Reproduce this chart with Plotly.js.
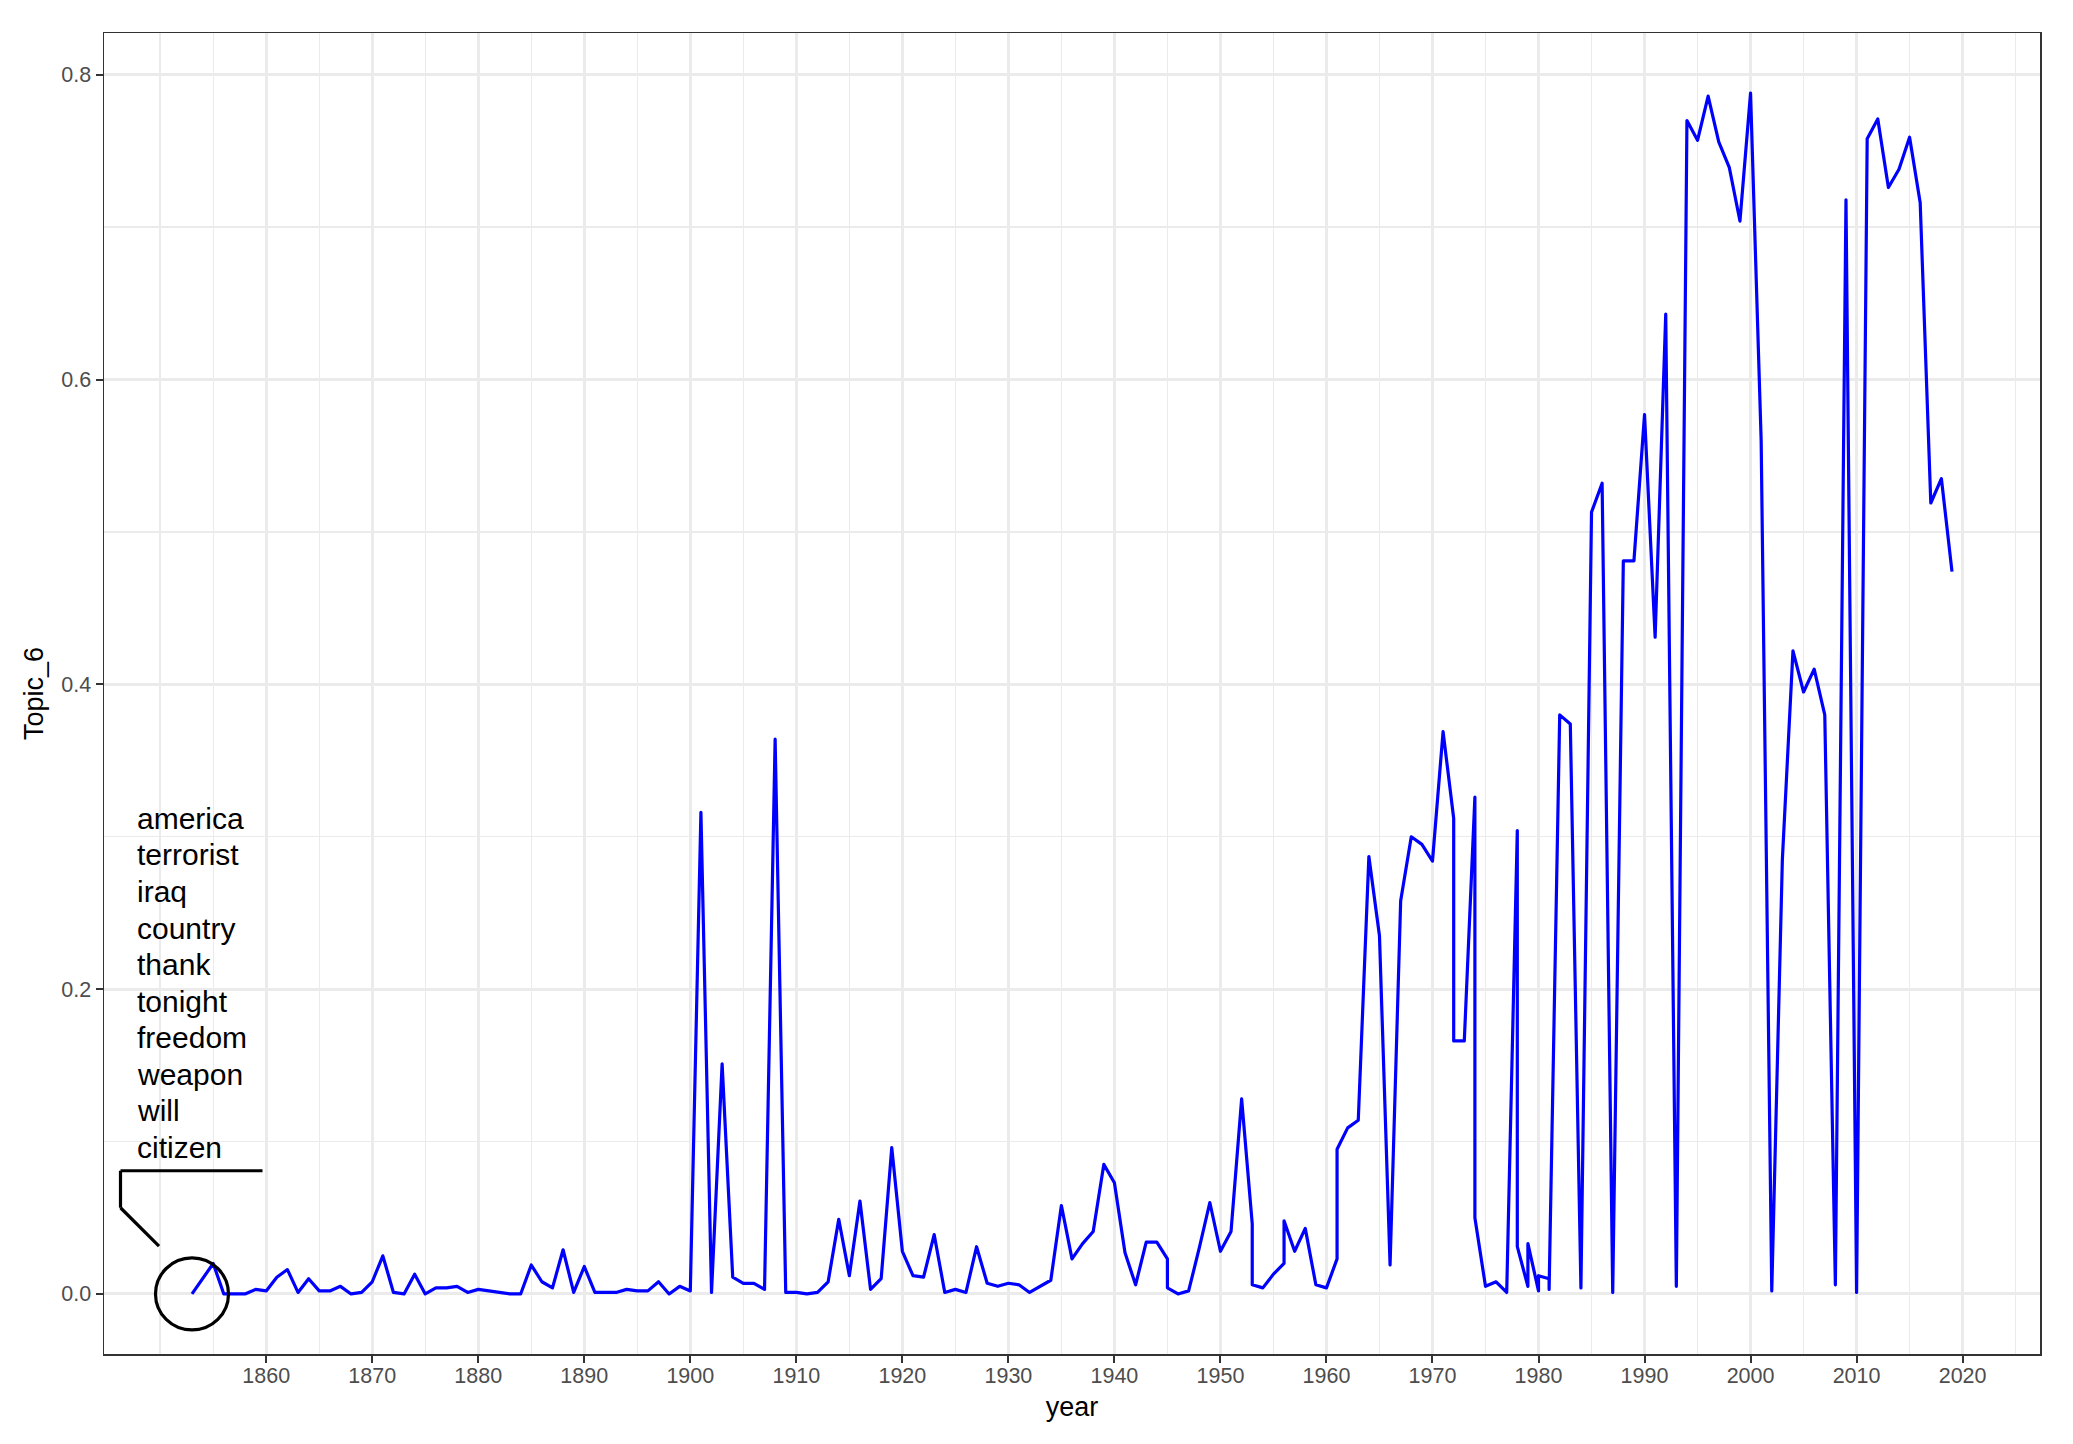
<!DOCTYPE html>
<html>
<head>
<meta charset="utf-8">
<script src="https://cdn.plot.ly/plotly-3.0.1.min.js"></script>
<style>
  html, body { margin: 0; padding: 0; background: #ffffff; overflow: hidden; }
  #chart { width: 2073px; height: 1444px; }
  .js-line { stroke-linejoin: round; }
</style>
</head>
<body>
<div id="chart"></div>
<script>
// ---- data ----
var years = [
  1853,1854,1855,1856,1857,1858,1859,1860,1861,1862,1863,1864,1865,1866,1867,1868,1869,
  1870,1871,1872,1873,1874,1875,1876,1877,1878,1879,1880,1881,1882,1883,1884,1885,1886,
  1887,1888,1889,1890,1891,1892,1893,1894,1895,1896,1897,1898,1899,1900,1901,1902,1903,
  1904,1905,1906,1907,1908,1909,1910,1911,1912,1913,1914,1915,1916,1917,1918,1919,1920,
  1921,1922,1923,1924,1925,1926,1927,1928,1929,1930,1931,1932,1933,1934,1935,1936,1937,
  1938,1939,1940,1941,1942,1943,1944,1945,1945,1946,1947,1948,1949,1950,1951,1952,1953,
  1953,1954,1955,1956,1956,1957,1958,1959,1960,1961,1961,1962,1963,1964,1965,1966,1967,
  1968,1969,1970,1971,1972,1972,1973,1974,1974,1975,1976,1977,1978,1978,1979,1979,1980,
  1980,1981,1981,1982,1983,1984,1985,1986,1987,1988,1989,1990,1991,1992,1993,1994,1995,
  1996,1997,1998,1999,2000,2001,2002,2003,2004,2005,2006,2007,2008,2009,2010,2011,2012,
  2013,2014,2015,2016,2017,2018,2019
];
var topic6 = [
  0.000,0.010,0.020,0.000,0.000,0.000,0.003,0.002,0.011,0.016,0.001,0.010,0.002,0.002,0.005,0.000,0.001,
  0.008,0.025,0.001,0.000,0.013,0.000,0.004,0.004,0.005,0.001,0.003,0.002,0.001,0.000,0.000,0.019,0.008,
  0.004,0.029,0.001,0.018,0.001,0.001,0.001,0.003,0.002,0.002,0.008,0.000,0.005,0.002,0.316,0.001,0.151,
  0.011,0.007,0.007,0.003,0.364,0.001,0.001,0.000,0.001,0.008,0.049,0.012,0.061,0.003,0.010,0.096,0.028,
  0.012,0.011,0.039,0.001,0.003,0.001,0.031,0.007,0.005,0.007,0.006,0.001,0.005,0.009,0.058,0.023,0.033,
  0.041,0.085,0.073,0.027,0.006,0.034,0.034,0.023,0.004,0.000,0.002,0.030,0.060,0.028,0.041,0.128,0.046,
  0.006,0.004,0.013,0.020,0.048,0.028,0.043,0.006,0.004,0.023,0.095,0.109,0.114,0.287,0.235,0.019,0.258,
  0.300,0.295,0.284,0.369,0.312,0.166,0.166,0.326,0.050,0.005,0.008,0.001,0.304,0.031,0.005,0.033,0.002,
  0.012,0.010,0.003,0.380,0.374,0.004,0.513,0.532,0.001,0.481,0.481,0.577,0.431,0.643,0.005,0.770,0.757,
  0.786,0.756,0.739,0.704,0.788,0.560,0.002,0.285,0.422,0.395,0.410,0.380,0.006,0.718,0.001,0.758,0.771,
  0.726,0.738,0.759,0.716,0.519,0.535,0.474
];
var topWords = ["america","terrorist","iraq","country","thank","tonight","freedom","weapon","will","citizen"];
var xTicks = [1860,1870,1880,1890,1900,1910,1920,1930,1940,1950,1960,1970,1980,1990,2000,2010,2020];
var xMinor = [1850,1855,1865,1875,1885,1895,1905,1915,1925,1935,1945,1955,1965,1975,1985,1995,2005,2015,2025];
var yTicks = [0, 0.2, 0.4, 0.6, 0.8];
var yTickText = ["0.0","0.2","0.4","0.6","0.8"];
var yMinor = [0.1, 0.3, 0.5, 0.7];

// ---- drawing ----
var FONT = "Liberation Sans, Arial, Helvetica, sans-serif";
var x0 = years[0], y0 = topic6[0];

var trace = {
  x: years, y: topic6, type: "scatter", mode: "lines",
  line: {color: "#0000FF", width: 3.2},
  hoverinfo: "skip", showlegend: false
};

function pxLine(ax0, ay0, ax1, ay1) {
  return {
    type: "line", xref: "x", yref: "y",
    xsizemode: "pixel", ysizemode: "pixel",
    xanchor: x0, yanchor: y0,
    x0: ax0, y0: ay0, x1: ax1, y1: ay1,
    line: {color: "#000000", width: 3.2}
  };
}

var shapes = [
  {
    type: "circle", xref: "x", yref: "y",
    xsizemode: "pixel", ysizemode: "pixel",
    xanchor: x0, yanchor: y0,
    x0: -36.5, x1: 36.5, y0: -36, y1: 36,
    line: {color: "#000000", width: 3.2}
  },
  pxLine(-71.5, 123.2, 70.5, 123.2),
  pxLine(-71.5, 123.2, -71.5, 86.2),
  pxLine(-71.5, 86.2, -33, 47.8)
];

var annotations = topWords.map(function (w, i) {
  return {
    x: x0, y: y0, xref: "x", yref: "y",
    text: w, showarrow: false,
    xanchor: "left", yanchor: "middle",
    xshift: -56.7, yshift: 475.6 - 36.56 * i,
    font: {family: FONT, size: 30, color: "#000000"}
  };
});

var axisCommon = {
  showline: true, mirror: true, linecolor: "#333333", linewidth: 1.5,
  ticks: "outside", ticklen: 7, tickwidth: 2, tickcolor: "#333333",
  showgrid: true, gridcolor: "#EBEBEB", gridwidth: 3,
  zeroline: false,
  tickfont: {family: FONT, size: 21.5, color: "#4D4D4D"}
};

var layout = {
  width: 2073, height: 1444,
  margin: {l: 104, r: 33, t: 33, b: 90, pad: 0},
  paper_bgcolor: "#FFFFFF", plot_bgcolor: "#FFFFFF",
  font: {family: FONT},
  showlegend: false,
  xaxis: Object.assign({}, axisCommon, {
    range: [1844.7, 2027.3],
    tickmode: "array", tickvals: xTicks, ticktext: xTicks.map(String),
    ticklabelstandoff: -5,
    minor: {tickmode: "array", tickvals: xMinor, showgrid: true, gridcolor: "#EBEBEB", gridwidth: 1.4, ticks: ""},
    title: {text: "year", font: {family: FONT, size: 27, color: "#000000"}, standoff: 10}
  }),
  yaxis: Object.assign({}, axisCommon, {
    range: [-0.0394, 0.8274],
    tickmode: "array", tickvals: yTicks, ticktext: yTickText,
    minor: {tickmode: "array", tickvals: yMinor, showgrid: true, gridcolor: "#EBEBEB", gridwidth: 1.4, ticks: ""},
    title: {text: "Topic_6", font: {family: FONT, size: 27, color: "#000000"}, standoff: 10}
  }),
  shapes: shapes,
  annotations: annotations
};

Plotly.newPlot("chart", [trace], layout, {displayModeBar: false, staticPlot: true});
</script>
</body>
</html>
